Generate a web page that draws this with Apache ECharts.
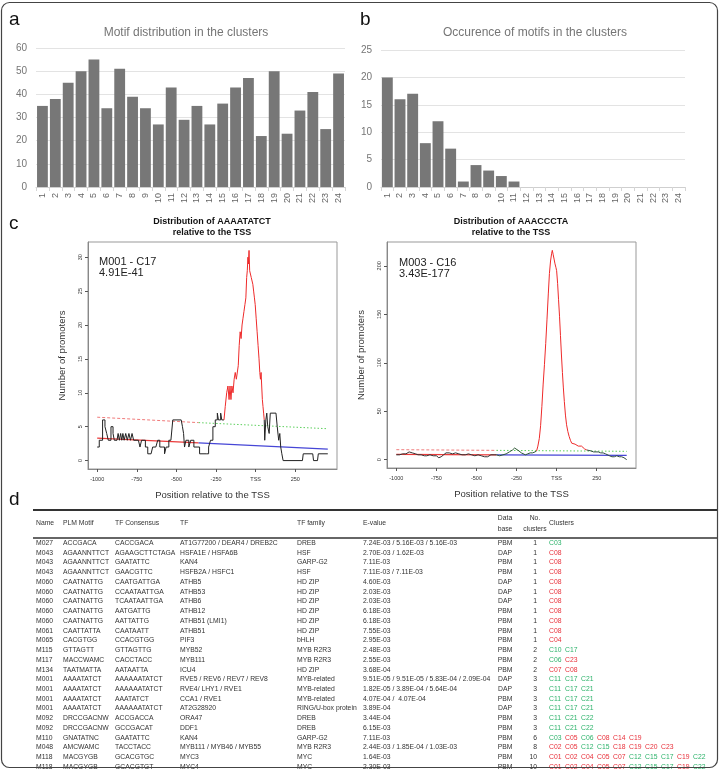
<!DOCTYPE html>
<html><head><meta charset="utf-8">
<script src="https://cdn.jsdelivr.net/npm/echarts@6.0.0/dist/echarts.min.js"></script>
<style>html,body{margin:0;padding:0;background:#fff}#c{width:721px;height:770px}</style>
</head><body><div id="c"></div>
<script>
// ---------- DATA ----------
const clusterLabels = ['1','2','3','4','5','6','7','8','9','10','11','12','13','14','15','16','17','18','19','20','21','22','23','24'];
const motifsPerCluster = [35,38,45,50,55,34,51,39,34,27,43,29,35,27,36,43,47,22,50,23,33,41,25,49];
const clustersPerMotif = [20,16,17,8,12,7,1,4,3,2,1,0,0,0,0,0,0,0,0,0,0,0,0,0];

const posTicks = [-1000,-750,-500,-250,0,250];
const posTickLabels = ['-1000','-750','-500','-250','TSS','250'];
const countTicksM001 = [0,5,10,15,20,25,30];
const countTicksM003 = [0,50,100,150,200];

// M001 - C17 (AAAATATCT)
const m001Before = [[-1000,2],[-987,3],[-966,6],[-951,5],[-940,4],[-930,3],[-913,5],[-900,4],[-892,3],[-875,3],[-868,4],[-860,3],[-852,4],[-845,3],[-838,4],[-830,3],[-820,4],[-810,3],[-800,4],[-790,3],[-780,4],[-770,3],[-755,3],[-740,3],[-730,2],[-720,3],[-713,3],[-696,2],[-681,1],[-660,1],[-650,2],[-630,2],[-618,3],[-605,2],[-590,2],[-575,1],[-565,2],[-548,3],[-535,3],[-523,6],[-470,6],[-462,5],[-455,4],[-449,2],[-440,3],[-430,3],[-422,2],[-410,3],[-400,3],[-390,2],[-370,2],[-354,1],[-312,1],[-297,2],[-285,3],[-270,5],[-255,6],[-242,7],[-235,6],[-228,6],[-221,7],[-214,6],[-200,6]];
const m001Peak = [[-200,6],[-192,8],[-183,10],[-175,11],[-168,9],[-162,11],[-156,9],[-150,11],[-143,10],[-136,12],[-129,13],[-122,12],[-116,12],[-110,14],[-104,17],[-98,19],[-92,18],[-86,20],[-80,21],[-74,22],[-68,23],[-62,24],[-57,27],[-53,28],[-49,30],[-46,29],[-42,31],[-38,28],[-33,28],[-28,27],[-23,27],[-18,26],[-13,25],[-8,24],[-3,23],[3,21],[9,19],[15,17],[21,15],[26,13],[30,12],[34,13],[38,11],[42,9],[46,8],[50,7],[54,6]];
const m001After = [[54,6],[57,3],[64,6],[70,7],[76,5],[85,4],[92,7],[128,7],[136,5],[145,3],[152,4],[158,2],[165,1],[173,0],[295,0],[300,1],[360,1],[365,0],[390,0],[395,1],[455,1]];
const m001ExpUp = [[-1000,6.4],[-360,5.6]];
const m001ExpDown = [[-360,5.6],[455,4.7]];
const m001FitUp = [[-1000,3.3],[-360,2.6]];
const m001FitDown = [[-360,2.6],[455,1.7]];

// M003 - C16 (AAACCCTA)
const m003Before = [[-1000,5],[-980,5],[-960,6],[-940,6],[-920,8],[-900,7],[-880,6],[-865,5],[-845,5],[-825,4],[-810,4],[-790,5],[-770,4],[-750,4],[-735,2],[-720,3],[-705,5],[-690,7],[-670,7],[-650,6],[-630,7],[-610,6],[-590,5],[-570,5],[-550,6],[-530,5],[-510,4],[-490,5],[-470,4],[-450,3],[-430,3],[-410,5],[-390,5],[-375,5]];
const m003Mid = [[-375,5],[-355,4],[-335,5],[-315,6],[-295,8],[-275,10],[-262,12],[-250,11],[-235,9],[-220,7],[-209,5],[-195,5],[-180,6],[-165,7],[-150,7],[-135,8],[-125,9]];
const m003Peak = [[-125,9],[-117,14],[-108,22],[-100,35],[-92,55],[-84,78],[-76,98],[-68,120],[-60,145],[-52,171],[-45,192],[-38,205],[-31,213],[-27,216],[-22,212],[-16,207],[-10,202],[-4,198],[0,195],[6,182],[12,165],[18,148],[24,128],[30,108],[36,90],[42,74],[48,60],[55,46],[62,36],[70,29],[78,24],[86,20],[94,17],[105,17],[115,16],[125,15],[135,14],[145,15],[155,14],[165,13],[175,11],[188,10]];
const m003After = [[188,10],[200,9],[215,9],[230,8],[245,8],[260,8],[275,7],[290,7],[305,6],[315,5],[330,4],[345,3],[360,3],[375,4],[390,3],[405,3],[420,2],[430,2],[437,0]];
const m003ExpUp = [[-1000,10.3],[-375,9.6]];
const m003ExpDown = [[-375,9.6],[437,8.6]];
const m003FitUp = [[-1000,5.5],[-375,5.0]];
const m003FitDown = [[-375,5.0],[437,4.4]];

// Table (panel d)
const tableHeaders = ['Name','PLM Motif','TF Consensus','TF','TF family','E-value','Data\nbase','No.\nclusters','Clusters'];
const motifNames = ['M027','M043','M043','M043','M060','M060','M060','M060','M060','M061','M065','M115','M117','M134','M001','M001','M001','M001','M092','M092','M110','M048','M118','M118'];
const plmMotifs = ['ACCGACA','AGAANNTTCT','AGAANNTTCT','AGAANNTTCT','CAATNATTG','CAATNATTG','CAATNATTG','CAATNATTG','CAATNATTG','CAATTATTA','CACGTGG','GTTAGTT','MACCWAMC','TAATMATTA','AAAATATCT','AAAATATCT','AAAATATCT','AAAATATCT','DRCCGACNW','DRCCGACNW','GNATATNC','AMCWAMC','MACGYGB','MACGYGB'];
const tfConsensus = ['CACCGACA','AGAAGCTTCTAGA','GAATATTC','GAACGTTC','CAATGATTGA','CCAATAATTGA','TCAATAATTGA','AATGATTG','AATTATTG','CAATAATT','CCACGTGG','GTTAGTTG','CACCTACC','AATAATTA','AAAAAATATCT','AAAAAATATCT','AAATATCT','AAAAAATATCT','ACCGACCA','GCCGACAT','GAATATTC','TACCTACC','GCACGTGC','GCACGTGT'];
const tfNames = ['AT1G77200 / DEAR4 / DREB2C','HSFA1E / HSFA6B','KAN4','HSFB2A / HSFC1','ATHB5','ATHB53','ATHB6','ATHB12','ATHB51 (LMI1)','ATHB51','PIF3','MYB52','MYB111','ICU4','RVE5 / REV6 / REV7 / REV8','RVE4/ LHY1 / RVE1','CCA1 / RVE1','AT2G28920','ORA47','DDF1','KAN4','MYB111 / MYB46 / MYB55','MYC3','MYC4'];
const tfFamilies = ['DREB','HSF','GARP-G2','HSF','HD ZIP','HD ZIP','HD ZIP','HD ZIP','HD ZIP','HD ZIP','bHLH','MYB R2R3','MYB R2R3','HD ZIP','MYB-related','MYB-related','MYB-related','RING/U-box protein','DREB','DREB','GARP-G2','MYB R2R3','MYC','MYC'];
const eValues = ['7.24E-03 / 5.16E-03 / 5.16E-03','2.70E-03 / 1.62E-03','7.11E-03','7.11E-03 / 7.11E-03','4.60E-03','2.03E-03','2.03E-03','6.18E-03','6.18E-03','7.55E-03','2.95E-03','2.48E-03','2.55E-03','3.68E-04','9.51E-05 / 9.51E-05 / 5.83E-04 / 2.09E-04','1.82E-05 / 3.89E-04 / 5.64E-04','4.07E-04 /  4.07E-04','3.89E-04','3.44E-04','6.15E-03','7.11E-03','2.44E-03 / 1.85E-04 / 1.03E-03','1.64E-03','2.30E-03'];
const databases = ['PBM','DAP','PBM','PBM','DAP','DAP','DAP','PBM','PBM','PBM','PBM','PBM','PBM','PBM','DAP','DAP','PBM','DAP','PBM','PBM','PBM','PBM','PBM','PBM'];
const clusterCounts = [1,1,1,1,1,1,1,1,1,1,1,2,2,2,3,3,3,3,3,3,6,8,10,10];
const clusterLists = [['C03'],['C08'],['C08'],['C08'],['C08'],['C08'],['C08'],['C08'],['C08'],['C08'],['C04'],['C10','C17'],['C06','C23'],['C07','C08'],['C11','C17','C21'],['C11','C17','C21'],['C11','C17','C21'],['C11','C17','C21'],['C11','C21','C22'],['C11','C21','C22'],['C03','C05','C06','C08','C14','C19'],['C02','C05','C12','C15','C18','C19','C20','C23'],['C01','C02','C04','C05','C07','C12','C15','C17','C19','C22'],['C01','C02','C04','C05','C07','C12','C15','C17','C19','C22']];
const greenClusters = ['C03','C06','C10','C11','C12','C15','C17','C21','C22'];

// ---------- RENDER ----------
const FF = '"Liberation Sans", Arial, sans-serif';
const chart = echarts.init(document.getElementById('c'), null, {renderer: 'canvas'});

function txt(x, y, text, size, color, align, weight, vAlign) {
  return {type: 'text', x: x, y: y, silent: true, z: 50,
    style: {text: text, fill: color || '#222', font: (weight || 'normal') + ' ' + size + 'px ' + FF,
      textAlign: align || 'left', textVerticalAlign: vAlign || 'middle'}};
}
function hline(x1, x2, y, w, c) {
  return {type: 'line', silent: true, z: 50, shape: {x1: x1, y1: y, x2: x2, y2: y}, style: {stroke: c, lineWidth: w}};
}

const graphics = [];
graphics.push({type: 'rect', silent: true, z: 60, shape: {x: 1.5, y: 2.5, width: 716, height: 765, r: 8}, style: {fill: 'none', stroke: '#444', lineWidth: 1.2}});
graphics.push(txt(9, 20, 'a', 19, '#111'));
graphics.push(txt(360, 20, 'b', 19, '#111'));
graphics.push(txt(9, 224, 'c', 19, '#111'));
graphics.push(txt(9, 500, 'd', 19, '#111'));
graphics.push(txt(186, 33, 'Motif distribution in the clusters', 12, '#757575', 'center'));
graphics.push(txt(535, 33, 'Occurence of motifs in the clusters', 12, '#757575', 'center'));
graphics.push(txt(212, 222, 'Distribution of AAAATATCT', 9, '#111', 'center', 'bold'));
graphics.push(txt(212, 233, 'relative to the TSS', 9, '#111', 'center', 'bold'));
graphics.push(txt(511, 222, 'Distribution of AAACCCTA', 9, '#111', 'center', 'bold'));
graphics.push(txt(511, 233, 'relative to the TSS', 9, '#111', 'center', 'bold'));
graphics.push(txt(99, 262, 'M001 - C17', 11, '#222'));
graphics.push(txt(99, 273, '4.91E-41', 11, '#222'));
graphics.push(txt(399, 263, 'M003 - C16', 11, '#222'));
graphics.push(txt(399, 274, '3.43E-177', 11, '#222'));

const TS = 6.8, TC = '#333';
const ROW0 = 543, ROWH = 9.74;
const colX = [36, 63, 115, 180, 297, 363, 505, 535, 549];
graphics.push(hline(33, 717, 510, 2, '#333'));
graphics.push(hline(33, 717, 538, 2, '#666'));
tableHeaders.forEach((h, i) => {
  const parts = h.split('\n');
  const align = (i === 6 || i === 7) ? 'center' : 'left';
  if (parts.length === 1) graphics.push(txt(colX[i], 523, h, TS, TC, align));
  else { graphics.push(txt(colX[i], 518, parts[0], TS, TC, align)); graphics.push(txt(colX[i], 529, parts[1], TS, TC, align)); }
});
motifNames.forEach((n, r) => {
  const y = ROW0 + r * ROWH;
  graphics.push(txt(colX[0], y, n, TS, TC));
  graphics.push(txt(colX[1], y, plmMotifs[r], TS, TC));
  graphics.push(txt(colX[2], y, tfConsensus[r], TS, TC));
  graphics.push(txt(colX[3], y, tfNames[r], TS, TC));
  graphics.push(txt(colX[4], y, tfFamilies[r], TS, TC));
  graphics.push(txt(colX[5], y, eValues[r], TS, TC));
  graphics.push(txt(colX[6], y, databases[r], TS, TC, 'center'));
  graphics.push(txt(537, y, String(clusterCounts[r]), TS, TC, 'right'));
  clusterLists[r].forEach((c, k) => {
    graphics.push(txt(colX[8] + k * 16, y, c, TS, greenClusters.indexOf(c) >= 0 ? '#2db36b' : '#e8303a'));
  });
});

const barAxisCommon = {
  type: 'category', data: clusterLabels,
  axisLine: {show: true, lineStyle: {color: '#cfcfcf'}},
  axisTick: {show: true, lineStyle: {color: '#d5d5d5'}, length: 4},
  axisLabel: {rotate: 90, fontSize: 9, color: '#666', interval: 0, margin: 6, fontFamily: FF}
};
const barYCommon = {
  type: 'value', min: 0,
  axisLine: {show: false}, axisTick: {show: false},
  axisLabel: {fontSize: 10, color: '#757575', margin: 9, fontFamily: FF},
  splitLine: {lineStyle: {color: '#e3e3e3'}}
};
const posAxisCommon = {
  type: 'value', min: -1058, max: 513,
  axisLine: {show: true, onZero: false, lineStyle: {color: '#888'}},
  axisTick: {show: true, length: 3, lineStyle: {color: '#555'}, customValues: posTicks},
  axisLabel: {fontSize: 5.5, color: '#333', margin: 7, fontFamily: FF, customValues: posTicks,
    formatter: v => posTickLabels[posTicks.indexOf(v)] || ''},
  splitLine: {show: false},
  name: 'Position relative to the TSS', nameLocation: 'middle', nameGap: 21,
  nameTextStyle: {fontSize: 9.5, color: '#333', fontFamily: FF}
};
function countAxis(min, max, ticks) {
  return {type: 'value', min: min, max: max,
    axisLine: {show: true, onZero: false, lineStyle: {color: '#888'}},
    axisTick: {show: true, length: 3, lineStyle: {color: '#555'}, customValues: ticks},
    axisLabel: {fontSize: 5.5, color: '#333', margin: 5, rotate: 90, fontFamily: FF, customValues: ticks},
    splitLine: {show: false},
    name: 'Number of promoters', nameLocation: 'middle', nameGap: 21, nameRotate: 90,
    nameTextStyle: {fontSize: 9.5, color: '#333', fontFamily: FF}};
}
function lineS(data, xi, color, opts) {
  return Object.assign({type: 'line', data: data, xAxisIndex: xi, yAxisIndex: xi, symbol: 'none',
    lineStyle: {color: color, width: 1}, silent: true, z: 3}, opts || {});
}

const option = {
  animation: false,
  textStyle: {fontFamily: FF},
  grid: [
    {left: 36, top: 48, width: 309, height: 139},
    {left: 381, top: 50, width: 304, height: 137},
    {left: 88, top: 242, width: 249, height: 227, show: true, borderColor: '#999', borderWidth: 1},
    {left: 387, top: 242, width: 249, height: 226, show: true, borderColor: '#999', borderWidth: 1}
  ],
  xAxis: [
    Object.assign({gridIndex: 0}, barAxisCommon),
    Object.assign({gridIndex: 1}, barAxisCommon),
    Object.assign({gridIndex: 2}, posAxisCommon),
    Object.assign({gridIndex: 3}, posAxisCommon, {max: 495})
  ],
  yAxis: [
    Object.assign({gridIndex: 0, max: 60, interval: 10}, barYCommon),
    Object.assign({gridIndex: 1, max: 25, interval: 5}, barYCommon),
    Object.assign({gridIndex: 2}, countAxis(-1.24, 32.24, countTicksM001)),
    Object.assign({gridIndex: 3}, countAxis(-8.6, 224.6, countTicksM003))
  ],
  series: [
    {type: 'bar', data: motifsPerCluster, xAxisIndex: 0, yAxisIndex: 0, barCategoryGap: '16%', itemStyle: {color: '#777'}, silent: true},
    {type: 'bar', data: clustersPerMotif, xAxisIndex: 1, yAxisIndex: 1, barCategoryGap: '14%', itemStyle: {color: '#777'}, silent: true},
    lineS(m001ExpUp, 2, '#f07a7a', {lineStyle: {color: '#f07a7a', width: 1, type: [3, 2]}}),
    lineS(m001ExpDown, 2, '#5ccf5c', {lineStyle: {color: '#5ccf5c', width: 1, type: [1.5, 2]}}),
    lineS(m001FitUp, 2, '#ea3a3a', {lineStyle: {color: '#ea3a3a', width: 1.2}}),
    lineS(m001FitDown, 2, '#4646d6', {lineStyle: {color: '#4646d6', width: 1.2}}),
    lineS(m001Before, 2, '#222', {step: 'end'}),
    lineS(m001Peak, 2, '#ee2a2a'),
    lineS(m001After, 2, '#222', {step: 'end'}),
    lineS(m003ExpUp, 3, '#f07a7a', {lineStyle: {color: '#f07a7a', width: 1, type: [3, 2]}}),
    lineS(m003ExpDown, 3, '#5ccf5c', {lineStyle: {color: '#5ccf5c', width: 1, type: [1.5, 2]}}),
    lineS(m003FitUp, 3, '#ea3a3a', {lineStyle: {color: '#ea3a3a', width: 1.2}}),
    lineS(m003FitDown, 3, '#4646d6', {lineStyle: {color: '#4646d6', width: 1.2}}),
    lineS(m003Before, 3, '#333'),
    lineS(m003Mid, 3, '#2f5a35'),
    lineS(m003Peak, 3, '#ee2a2a'),
    lineS(m003After, 3, '#2f4a40')
  ],
  graphic: {elements: graphics}
};
chart.setOption(option);
</script>
</body></html>
